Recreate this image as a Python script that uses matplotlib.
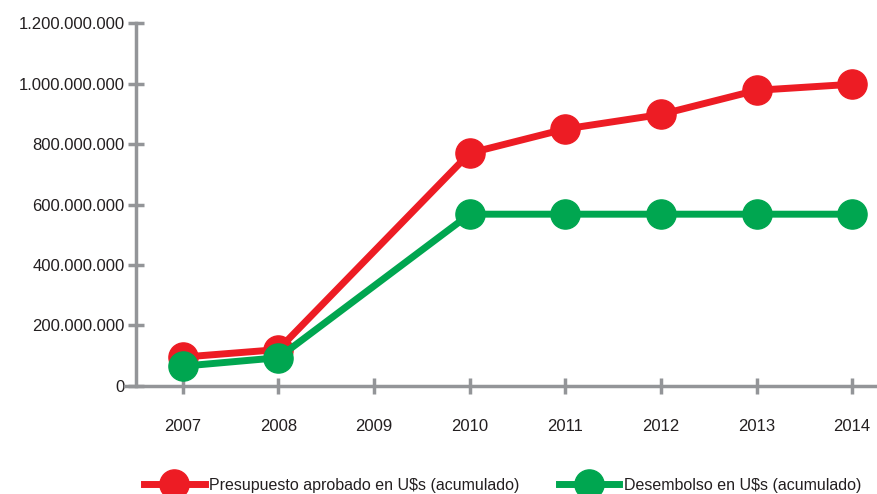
import matplotlib
matplotlib.use("Agg")
import matplotlib.pyplot as plt
from matplotlib.ticker import FuncFormatter
import numpy as np

# datos
anios = ["2007", "2008", "2009", "2010", "2011", "2012", "2013", "2014"]
anios_datos = ["2007", "2008", "2010", "2011", "2012", "2013", "2014"]
presupuesto = [95e6, 120e6, 770e6, 850e6, 898e6, 978e6, 998e6]
desembolso = [65e6, 93e6, 568e6, 568e6, 568e6, 568e6, 568e6]

rojo = "#ED1C24"
verde = "#00A650"
gris = "#939598"

plt.rcParams["font.family"] = ["Liberation Sans", "DejaVu Sans"]

fig = plt.figure(figsize=(8.77, 4.94), dpi=100)
ax = fig.add_axes([0.155, 0.219, 0.845, 0.734])

x_datos = [anios.index(a) for a in anios_datos]
ax.plot(x_datos, presupuesto, color=rojo, lw=5, marker="o", markersize=21,
        label="Presupuesto aprobado en U$s (acumulado)")
ax.plot(x_datos, desembolso, color=verde, lw=5, marker="o", markersize=21,
        label="Desembolso en U$s (acumulado)")

ax.set_xlim(-0.49, 7.26)
ax.set_ylim(0, 1.2e9)
ax.set_xticks(range(len(anios)))
ax.set_xticklabels(anios)
ax.set_yticks(np.arange(0, 1.2e9 + 1, 2e8))
ax.yaxis.set_major_formatter(FuncFormatter(lambda v, p: f"{int(v):,}".replace(",", ".")))

for s in ["top", "right"]:
    ax.spines[s].set_visible(False)
for s in ["left", "bottom"]:
    ax.spines[s].set_color(gris)
    ax.spines[s].set_linewidth(2.5)
ax.spines["bottom"].set_bounds(-0.6, 7.26)
ax.tick_params(axis="both", direction="inout", length=12, width=2.5, color=gris,
               labelsize=12, labelcolor="#231F20")
ax.tick_params(axis="x", pad=18)
ax.tick_params(axis="y", pad=2)

leg = ax.legend(loc="upper left", bbox_to_anchor=(0.002, -0.236), ncol=2, frameon=False,
                fontsize=11.5, handlelength=3.8, handletextpad=0.3, columnspacing=2.45,
                borderaxespad=0)
for t in leg.get_texts():
    t.set_color("#231F20")

fig.savefig("out.png", dpi=100)
